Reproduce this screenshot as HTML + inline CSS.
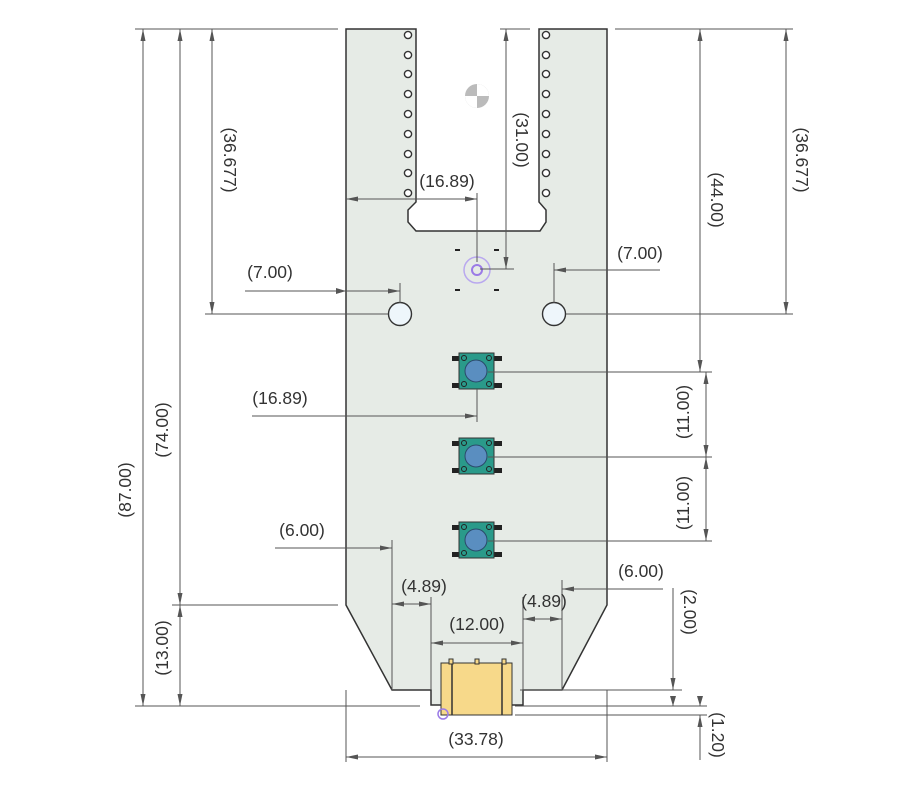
<!DOCTYPE html>
<html><head><style>
body{margin:0;background:#fff;}
svg text{font-family:"Liberation Sans",sans-serif;font-size:17.5px;fill:#333;}
</style></head><body>
<svg width="913" height="780" xmlns="http://www.w3.org/2000/svg">
<defs>
<marker id="a" markerWidth="12" markerHeight="6" refX="12" refY="3" orient="auto-start-reverse" markerUnits="userSpaceOnUse">
<path d="M0,0.5 L12,3 L0,5.5 z" fill="#555"/></marker>
</defs>
<!-- board -->
<path d="M346,29 L416,29 L416,202 L408,210 L408,222 L416,231 L540,231 L546,222 L546,210 L539,202 L539,29 L607,29 L607,605 L562,690 L523,690 L523,705 L431,705 L431,690 L392,690 L346,605 Z" fill="#e6ebe6" stroke="#333" stroke-width="1.5"/>
<g fill="#fff" stroke="#333" stroke-width="1.4">
<circle cx="408" cy="35" r="3.6"/><circle cx="408" cy="55" r="3.6"/><circle cx="408" cy="74" r="3.6"/><circle cx="408" cy="94" r="3.6"/><circle cx="408" cy="114" r="3.6"/><circle cx="408" cy="134" r="3.6"/><circle cx="408" cy="154" r="3.6"/><circle cx="408" cy="173" r="3.6"/><circle cx="408" cy="193" r="3.6"/>
<circle cx="546" cy="35" r="3.6"/><circle cx="546" cy="55" r="3.6"/><circle cx="546" cy="74" r="3.6"/><circle cx="546" cy="94" r="3.6"/><circle cx="546" cy="114" r="3.6"/><circle cx="546" cy="134" r="3.6"/><circle cx="546" cy="154" r="3.6"/><circle cx="546" cy="173" r="3.6"/><circle cx="546" cy="193" r="3.6"/>
</g>
<circle cx="400" cy="314" r="11.5" fill="#eef6fb" stroke="#333" stroke-width="1.4"/>
<circle cx="554" cy="314" r="11.5" fill="#eef6fb" stroke="#333" stroke-width="1.4"/>
<!-- center mark -->
<circle cx="477" cy="96" r="12" fill="#bbb"/>
<path d="M477,84 A12,12 0 0 1 489,96 L477,96Z M477,108 A12,12 0 0 1 465,96 L477,96Z" fill="#fff"/>
<!-- origin -->
<circle cx="477" cy="270" r="13" fill="none" stroke="#b9a8ef" stroke-width="1.5"/>
<circle cx="477" cy="270" r="5" fill="none" stroke="#9b7be6" stroke-width="2"/>
<g fill="#222"><rect x="455" y="249" width="5" height="2"/><rect x="494" y="249" width="5" height="2"/><rect x="455" y="289" width="5" height="2"/><rect x="494" y="289" width="5" height="2"/></g>
<!-- buttons -->
<g id="btn">
<rect x="452" y="356" width="8" height="5" fill="#222"/><rect x="452" y="383" width="8" height="5" fill="#222"/>
<rect x="494" y="356" width="8" height="5" fill="#222"/><rect x="494" y="383" width="8" height="5" fill="#222"/>
<rect x="459" y="353" width="35" height="36" fill="#2a9a8a" stroke="#333"/>
<circle cx="476" cy="371" r="11" fill="#5a8ec0" stroke="#2a4a6a"/>
<g fill="none" stroke="#222"><circle cx="464" cy="358" r="2.5"/><circle cx="489" cy="358" r="2.5"/><circle cx="464" cy="384" r="2.5"/><circle cx="489" cy="384" r="2.5"/></g>
</g>
<use href="#btn" y="85"/>
<use href="#btn" y="169"/>
<!-- usb -->
<rect x="441" y="663" width="71" height="52" fill="#f7d98a" stroke="#333"/>
<line x1="452" y1="663" x2="452" y2="715" stroke="#333" stroke-width="1.5"/>
<line x1="502" y1="663" x2="502" y2="715" stroke="#333" stroke-width="1.5"/>
<g fill="#f7d98a" stroke="#333"><rect x="449" y="659" width="4" height="5"/><rect x="475" y="659" width="4" height="5"/><rect x="502" y="659" width="4" height="5"/></g>
<circle cx="443" cy="714" r="5" fill="none" stroke="#9b7be6" stroke-width="1.5"/>
<!-- extension lines -->
<g stroke="#555" stroke-width="1" fill="none">
<line x1="135" y1="29" x2="338" y2="29"/><line x1="135" y1="706" x2="420" y2="706"/>
<line x1="172" y1="605" x2="338" y2="605"/><line x1="205" y1="314" x2="388" y2="314"/>
<line x1="500" y1="29" x2="530" y2="29"/><line x1="480" y1="269" x2="514" y2="269"/>
<line x1="615" y1="29" x2="793" y2="29"/><line x1="566" y1="314" x2="793" y2="314"/>
<line x1="488" y1="372" x2="712" y2="372"/><line x1="488" y1="457" x2="712" y2="457"/><line x1="488" y1="541" x2="712" y2="541"/>
<line x1="477" y1="193" x2="477" y2="262"/><line x1="400" y1="283" x2="400" y2="303"/><line x1="554" y1="263" x2="554" y2="303"/>
<line x1="477" y1="389" x2="477" y2="422"/>
<line x1="392" y1="540" x2="392" y2="690"/><line x1="562" y1="580" x2="562" y2="690"/>
<line x1="431" y1="597" x2="431" y2="690"/><line x1="523" y1="597" x2="523" y2="690"/>
<line x1="346" y1="690" x2="346" y2="762"/><line x1="607" y1="690" x2="607" y2="762"/>
<line x1="520" y1="690" x2="682" y2="690"/><line x1="515" y1="706" x2="707" y2="706"/><line x1="515" y1="715" x2="707" y2="715"/>
</g>
<!-- dimension lines -->
<g stroke="#555" stroke-width="1" fill="none" marker-start="url(#a)" marker-end="url(#a)">
<line x1="143" y1="29" x2="143" y2="706"/>
<line x1="180" y1="29" x2="180" y2="605"/>
<line x1="180" y1="605" x2="180" y2="706"/>
<line x1="212" y1="29" x2="212" y2="314"/>
<line x1="506" y1="29" x2="506" y2="269"/>
<line x1="700" y1="29" x2="700" y2="372"/>
<line x1="786" y1="29" x2="786" y2="314"/>
<line x1="706" y1="372" x2="706" y2="457"/>
<line x1="706" y1="457" x2="706" y2="541"/>
<line x1="346" y1="757" x2="607" y2="757"/>
<line x1="346" y1="199" x2="477" y2="199"/>
<line x1="431" y1="643" x2="523" y2="643"/>
</g>
<g stroke="#555" stroke-width="1" fill="none">
<line x1="245" y1="291" x2="400" y2="291" marker-end="url(#a)"/><line x1="346" y1="291" x2="400" y2="291"/>
<line x1="660" y1="270" x2="554" y2="270" marker-end="url(#a)"/>
<line x1="252" y1="416" x2="477" y2="416" marker-end="url(#a)"/>
<line x1="275" y1="548" x2="392" y2="548" marker-end="url(#a)"/>
<line x1="663" y1="589" x2="562" y2="589" marker-end="url(#a)"/>
<line x1="392" y1="604" x2="431" y2="604" marker-start="url(#a)" marker-end="url(#a)"/>
<line x1="523" y1="619" x2="562" y2="619" marker-start="url(#a)" marker-end="url(#a)"/>
<line x1="673" y1="588" x2="673" y2="690" marker-end="url(#a)"/><line x1="673" y1="706" x2="673" y2="702"/>
<line x1="700" y1="701" x2="700" y2="706" /><line x1="700" y1="760" x2="700" y2="715" marker-end="url(#a)"/>
</g>
<g fill="#555"><path d="M346,291 l-10,-3 v6z"/><path d="M673,706 l-3,-10 h6z"/><path d="M700,706 l-3,-10 h6z"/></g>
<!-- labels -->
<text x="447" y="187" text-anchor="middle">(16.89)</text>
<text x="270" y="278" text-anchor="middle">(7.00)</text>
<text x="640" y="259" text-anchor="middle">(7.00)</text>
<text x="280" y="404" text-anchor="middle">(16.89)</text>
<text x="302" y="536" text-anchor="middle">(6.00)</text>
<text x="641" y="577" text-anchor="middle">(6.00)</text>
<text x="424" y="592" text-anchor="middle">(4.89)</text>
<text x="544" y="607" text-anchor="middle">(4.89)</text>
<text x="477" y="630" text-anchor="middle">(12.00)</text>
<text x="476" y="745" text-anchor="middle">(33.78)</text>
<text transform="translate(131,490) rotate(-90)" text-anchor="middle">(87.00)</text>
<text transform="translate(168,430) rotate(-90)" text-anchor="middle">(74.00)</text>
<text transform="translate(168,648) rotate(-90)" text-anchor="middle">(13.00)</text>
<text transform="translate(689,412) rotate(-90)" text-anchor="middle">(11.00)</text>
<text transform="translate(689,503) rotate(-90)" text-anchor="middle">(11.00)</text>
<text transform="translate(224,160) rotate(90)" text-anchor="middle">(36.677)</text>
<text transform="translate(516,140) rotate(90)" text-anchor="middle">(31.00)</text>
<text transform="translate(711,200) rotate(90)" text-anchor="middle">(44.00)</text>
<text transform="translate(796,160) rotate(90)" text-anchor="middle">(36.677)</text>
<text transform="translate(684,612) rotate(90)" text-anchor="middle">(2.00)</text>
<text transform="translate(712,735) rotate(90)" text-anchor="middle">(1.20)</text>
</svg>
</body></html>
